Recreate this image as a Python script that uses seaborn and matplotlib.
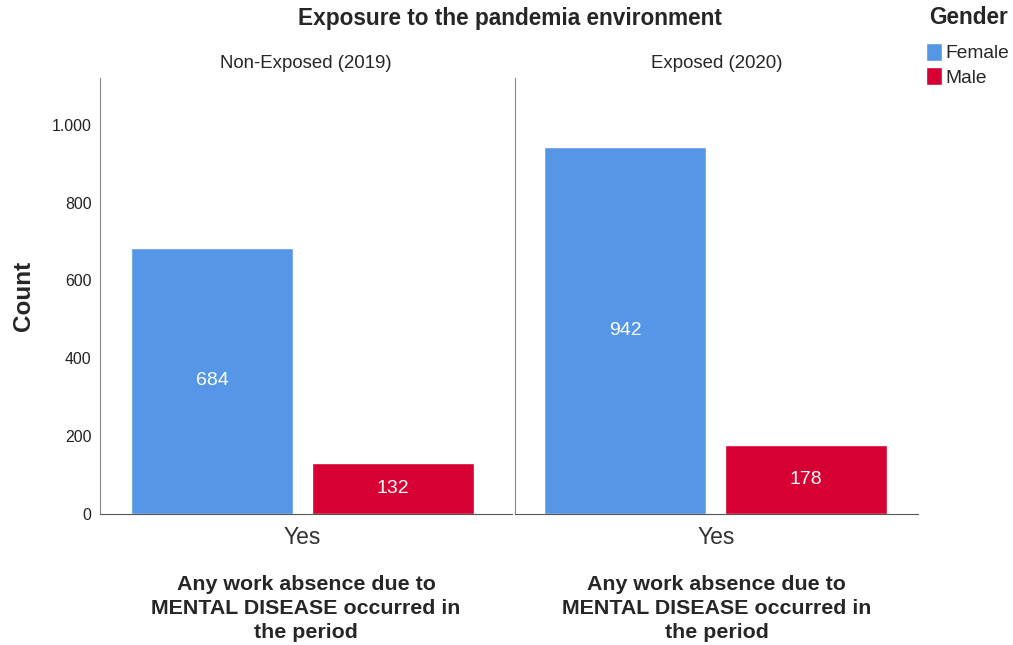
import matplotlib
matplotlib.use("Agg")
import matplotlib.pyplot as plt
from matplotlib.ticker import FuncFormatter
import seaborn as sns
import pandas as pd

# data
periods = ["Non-Exposed (2019)", "Exposed (2020)"]
genders = ["Female", "Male"]
female_counts = [684, 942]
male_counts = [132, 178]
answer = "Yes"

COLORS = {"Female": "#5596e6", "Male": "#d70032"}

sns.set_style("white")
plt.rcParams["font.family"] = ["Liberation Sans", "DejaVu Sans"]

rows = []
for i, p in enumerate(periods):
    rows.append({"Period": p, "Absence": answer, "Gender": "Female", "Count": female_counts[i]})
    rows.append({"Period": p, "Absence": answer, "Gender": "Male", "Count": male_counts[i]})
df = pd.DataFrame(rows)

W, H = 1013, 645
fig = plt.figure(figsize=(W / 100, H / 100), dpi=100)

# axes boxes in pixels: left, right, top, bottom, plus x limits
boxes = [(100, 512, 78, 514), (515, 918, 78, 514)]
xlims = [(-0.4475, 0.463), (-0.444, 0.447)]


def thousands(v, pos):
    return f"{int(v):,}".replace(",", ".")


axes = []
for i, p in enumerate(periods):
    l, r, t, b = boxes[i]
    ax = fig.add_axes([l / W, 1 - b / H, (r - l) / W, (b - t) / H])
    sub = df[df["Period"] == p]
    sns.barplot(data=sub, x="Absence", y="Count", hue="Gender", hue_order=genders,
                palette=COLORS, width=0.8, gap=0.105, saturation=1, ax=ax)
    for c in ax.containers:
        ax.bar_label(c, label_type="center", color="white", fontsize=14)
    ax.set_ylim(0, 1120)
    ax.set_xlim(*xlims[i])
    ax.set_yticks([0, 200, 400, 600, 800, 1000])
    ax.yaxis.set_major_formatter(FuncFormatter(thousands))
    ax.tick_params(axis="both", length=0)
    ax.tick_params(axis="y", labelsize=11.4, colors="#222222", pad=6)
    ax.tick_params(axis="x", labelsize=16.5, colors="#333333", pad=9)
    for s in ["top", "right"]:
        ax.spines[s].set_visible(False)
    ax.spines["left"].set_color("#888888")
    ax.spines["bottom"].set_color("#555555")
    ax.set_title(p, fontsize=13.4, pad=7)
    ax.set_xlabel("Any work absence due to\nMENTAL DISEASE occurred in\nthe period",
                  fontsize=15.4, fontweight="bold", labelpad=18, linespacing=1.36)
    if i == 0:
        ax.set_ylabel("Count", fontsize=17.5, fontweight="bold", labelpad=12)
    else:
        ax.set_ylabel("")
        ax.set_yticklabels([])
    axes.append(ax)

handles, labels = axes[0].get_legend_handles_labels()
for ax in axes:
    ax.get_legend().remove()

fig.text(510 / W, 1 - 18 / H, "Exposure to the pandemia environment",
         ha="center", va="center", fontsize=16.3, fontweight="bold")
fig.text(968 / W, 1 - 18 / H, "Gender", ha="center", va="center",
         fontsize=16.3, fontweight="bold")
fig.legend(handles, labels, loc="upper left", bbox_to_anchor=(926 / W, 1 - 43 / H),
           frameon=False, fontsize=13.8, handlelength=0.85, handleheight=1.05,
           handletextpad=0.15, labelspacing=0.25, borderaxespad=0, borderpad=0)

fig.savefig("out.png", dpi=100, facecolor="white")
